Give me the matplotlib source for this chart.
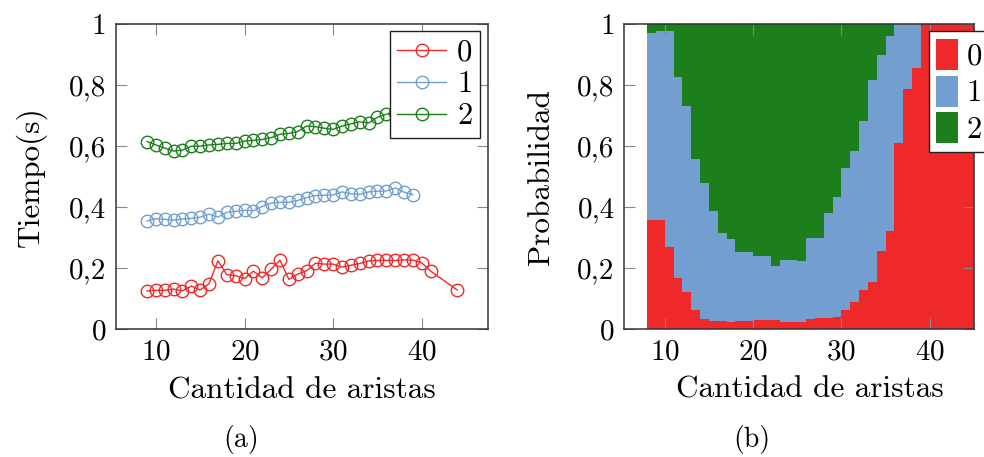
import numpy as np
import matplotlib
matplotlib.use("Agg")
import matplotlib.pyplot as plt
from matplotlib.ticker import FuncFormatter
from matplotlib.patches import Patch

plt.rcParams['font.family'] = ['cmr10', 'DejaVu Serif']
plt.rcParams['mathtext.fontset'] = 'cm'
plt.rcParams['axes.formatter.use_mathtext'] = True

RED = '#ef2929'
BLUE = '#729fcf'
GREEN = '#1c7f1c'

# (a) tiempo por cantidad de aristas
x_red = [9, 10, 11, 12, 13, 14, 15, 16, 17, 18, 19, 20, 21, 22, 23, 24, 25,
         26, 27, 28, 29, 30, 31, 32, 33, 34, 35, 36, 37, 38, 39, 40, 41, 44]
t_red = [0.125, 0.127, 0.127, 0.131, 0.125, 0.141, 0.128, 0.149, 0.224, 0.178,
         0.175, 0.165, 0.190, 0.168, 0.196, 0.226, 0.163, 0.180, 0.191, 0.216,
         0.213, 0.213, 0.203, 0.209, 0.215, 0.223, 0.225, 0.225, 0.225, 0.227,
         0.226, 0.217, 0.190, 0.128]
x_blue = list(range(9, 40))
t_blue = [0.354, 0.362, 0.360, 0.357, 0.361, 0.363, 0.367, 0.377, 0.367, 0.383,
          0.386, 0.390, 0.388, 0.402, 0.413, 0.416, 0.416, 0.422, 0.431, 0.438,
          0.439, 0.440, 0.450, 0.444, 0.442, 0.450, 0.452, 0.453, 0.463, 0.449,
          0.441]
x_green = list(range(9, 40))
t_green = [0.615, 0.604, 0.594, 0.584, 0.587, 0.600, 0.600, 0.604, 0.606, 0.609,
           0.609, 0.617, 0.619, 0.622, 0.628, 0.639, 0.642, 0.648, 0.666, 0.664,
           0.659, 0.655, 0.666, 0.673, 0.680, 0.676, 0.695, 0.705, 0.71, 0.715,
           0.72]

# (b) probabilidad por cantidad de aristas
x_prob = list(range(8, 45))
p0 = [0.358, 0.358, 0.268, 0.167, 0.120, 0.061, 0.033, 0.027, 0.027, 0.022,
      0.027, 0.027, 0.030, 0.030, 0.028, 0.023, 0.023, 0.023, 0.032, 0.035,
      0.035, 0.040, 0.062, 0.089, 0.127, 0.154, 0.257, 0.322, 0.609, 0.788,
      0.858, 1, 1, 1, 1, 1, 1]
p1 = [0.612, 0.620, 0.710, 0.661, 0.612, 0.498, 0.445, 0.361, 0.289, 0.274,
      0.225, 0.225, 0.210, 0.210, 0.180, 0.203, 0.203, 0.199, 0.266, 0.263,
      0.345, 0.393, 0.465, 0.496, 0.557, 0.663, 0.642, 0.641, 0.391, 0.212,
      0.142, 0, 0, 0, 0, 0, 0]
p2 = [0.030, 0.022, 0.022, 0.172, 0.268, 0.441, 0.522, 0.612, 0.684, 0.704,
      0.748, 0.748, 0.760, 0.760, 0.792, 0.774, 0.774, 0.778, 0.702, 0.702,
      0.620, 0.567, 0.473, 0.415, 0.316, 0.183, 0.101, 0.037, 0, 0, 0, 0, 0,
      0, 0, 0, 0]

fig = plt.figure(figsize=(9.84, 4.57), dpi=100)
ax1 = fig.add_axes([0.1179, 0.2801, 0.3783, 0.6667])
ax2 = fig.add_axes([0.6345, 0.2801, 0.3557, 0.6667])

def coma(v, pos):
    if abs(v) < 1e-9:
        return '0'
    if abs(v - 1) < 1e-9:
        return '1'
    return ('%.1f' % v).replace('.', ',')

for ax in (ax1, ax2):
    ax.set_ylim(0, 1)
    ax.set_yticks([0, 0.2, 0.4, 0.6, 0.8, 1])
    ax.set_xticks([10, 20, 30, 40])
    ax.yaxis.set_major_formatter(FuncFormatter(coma))
    ax.tick_params(direction='in', length=8, width=0.8, color='#888888',
                   labelsize=21, top=True, right=True, pad=7)
    for s in ax.spines.values():
        s.set_color('#333333')
        s.set_linewidth(1.1)
    ax.set_xlabel('Cantidad de aristas', fontsize=22.5, labelpad=8)

mk = dict(marker='o', markersize=9, markerfacecolor='none',
          markeredgewidth=1.0, linewidth=1.0)
ax1.plot(x_red, t_red, color=RED, label='0', **mk)
ax1.plot(x_blue, t_blue, color=BLUE, label='1', **mk)
ax1.plot(x_green, t_green, color=GREEN, label='2', **mk)
ax1.set_xlim(5.5, 47.5)
ax1.set_ylabel('Tiempo(s)', fontsize=22.5, labelpad=16)
leg1 = ax1.legend(loc='upper right', bbox_to_anchor=(0.978, 0.977),
                  fontsize=22, frameon=True, fancybox=False, framealpha=1,
                  edgecolor='#222222', handlelength=1.6, handletextpad=0.35,
                  labelspacing=0.15, borderpad=0.25, borderaxespad=0)
leg1.get_frame().set_linewidth(1.0)
leg1.set_zorder(10)

# const plot: extend the last step to close the area
xs = x_prob + [x_prob[-1] + 1]
a0 = np.array(p0 + [p0[-1]])
a1 = np.array(p1 + [p1[-1]])
a2 = np.array(p2 + [p2[-1]])
ax2.fill_between(xs, 0, a0, step='post', color=RED, linewidth=0)
ax2.fill_between(xs, a0, a0 + a1, step='post', color=BLUE, linewidth=0)
ax2.fill_between(xs, a0 + a1, a0 + a1 + a2, step='post', color=GREEN,
                 linewidth=0)
ax2.set_xlim(5.43, 45.05)
ax2.set_ylabel('Probabilidad', fontsize=22.5, labelpad=16)
ax2.xaxis.set_label_coords(0.53, -0.152)
handles = [Patch(facecolor=RED), Patch(facecolor=BLUE),
           Patch(facecolor=GREEN)]
leg2 = ax2.legend(handles, ['0', '1', '2'], loc='upper left',
                  bbox_to_anchor=(0.869, 0.977), fontsize=22, frameon=True,
                  fancybox=False, framealpha=1, edgecolor='#222222',
                  handlelength=0.7, handleheight=1.2, handletextpad=0.3,
                  labelspacing=0.15, borderpad=0.25, borderaxespad=0)
leg2.get_frame().set_linewidth(1.0)

fig.text(0.245, 0.022, '(a)', fontsize=20, ha='center')
fig.text(0.764, 0.022, '(b)', fontsize=20, ha='center')

fig.savefig('out.png', dpi=100)
